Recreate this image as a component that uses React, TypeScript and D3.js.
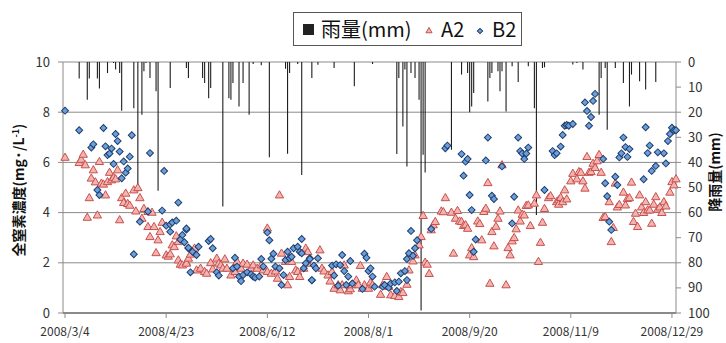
import React from 'react';
import * as d3 from 'd3';

// sampling days are counted from 2008/3/4
const startDate = new Date(2008, 2, 4);

const tickDays = [0, 50, 100, 150, 200, 250, 300];
const leftTicks = [0, 2, 4, 6, 8, 10];
const rightTicks = [0, 10, 20, 30, 40, 50, 60, 70, 80, 90, 100];

// [day, mm]
const rain: [number, number][] = [
  [7, 6.6], [11, 15], [12, 6.6], [16, 6.6], [17, 10.6], [21, 4.4], [24, 0.4], [25, 3], [27, 4.4],
  [28, 19.4], [34, 18.4], [36, 51.6], [38, 21], [39, 3.7], [40, 0.4], [42, 6.4], [45, 11.7], [46, 51.3],
  [52, 10.4], [60, 2.4], [61, 6.4], [68, 6.4], [69, 8.4], [71, 14.4], [72, 10.4], [78, 57.6], [81, 14.4],
  [82, 15], [83, 8.4], [86, 17.7], [88, 8.4], [91, 21], [93, 0.8], [97, 1.3], [101, 37.9], [109, 2.7],
  [110, 36.6], [111, 4.4], [115, 0.8], [117, 45], [122, 6.4], [125, 1.1], [133, 2.4], [143, 9.7], [152, 0.8],
  [164, 36.7], [165, 6.4], [167, 25.7], [168, 3], [169, 41.6], [171, 4.4], [173, 6.4], [175, 15], [176, 99],
  [177, 37], [178, 44], [191, 35], [196, 5], [199, 4.4], [200, 20], [201, 17.7], [202, 12.4], [209, 15.7],
  [210, 6.4], [211, 4.4], [214, 3.7], [215, 11.7], [216, 3.7], [218, 19.7], [221, 1.7], [224, 8], [229, 1.7],
  [232, 18.4], [233, 61], [236, 2.4], [237, 2.1], [251, 1], [253, 0.4], [256, 3], [264, 21], [265, 6.4],
  [267, 2.4], [268, 27], [272, 2.4], [276, 8.4], [279, 17.7], [280, 5], [284, 7.7], [287, 11], [292, 8],
];

// [day, mg/L]
const a2: [number, number][] = [
  [0, 6.2], [7, 5.99], [8, 6.12], [9, 6.32], [10, 5.9], [11, 3.81], [12, 4.59], [13, 5.37], [14, 5.7],
  [15, 5.22], [16, 3.9], [17, 6.03], [18, 5.17], [19, 5.13], [20, 4.7], [21, 5.23], [22, 5.6], [23, 5.3],
  [24, 5.4], [25, 5.34], [26, 5.7], [27, 3.71], [28, 4.59], [29, 4.4], [30, 4.77], [31, 4.36], [32, 4.29],
  [34, 4.9], [35, 4.06], [36, 4.99], [37, 4.59], [38, 3.77], [39, 4.16], [41, 4.04], [41, 3.44], [42, 3.04],
  [43, 4.01], [44, 3.44], [45, 2.4], [46, 2.91], [47, 3.24], [48, 3.61], [50, 2.31], [51, 2.26], [52, 2.35],
  [53, 2.71], [54, 2.64], [55, 3.07], [56, 2.84], [56, 2.11], [57, 1.94], [58, 1.91], [60, 2.01], [60, 1.98],
  [61, 2.18], [62, 2.34], [64, 2.58], [65, 1.71], [67, 1.78], [69, 1.65], [70, 1.58], [72, 2.0], [73, 1.75],
  [75, 2.18], [76, 1.98], [77, 1.91], [78, 1.78], [79, 2.15], [80, 1.78], [82, 1.51], [84, 1.65], [85, 2.05],
  [87, 1.78], [88, 1.98], [90, 1.94], [92, 1.78], [93, 1.91], [95, 1.78], [97, 1.91], [98, 1.71], [100, 1.65],
  [100, 3.38], [102, 1.58], [104, 1.67], [105, 1.38], [106, 4.7], [107, 2.38], [109, 2.05], [110, 1.12],
  [111, 1.45], [112, 2.05], [114, 1.71], [115, 1.65], [116, 1.45], [118, 1.78], [119, 2.58], [120, 1.98],
  [120, 2.44], [126, 2.51], [127, 1.78], [128, 1.67], [130, 1.51], [131, 1.27], [132, 1.65], [133, 0.98],
  [135, 1.12], [136, 0.92], [137, 1.12], [138, 1.91], [140, 0.88], [141, 0.96], [142, 1.12], [144, 1.31],
  [145, 1.12], [146, 1.89], [147, 0.98], [148, 1.12], [150, 0.98], [151, 1.22], [152, 1.12], [156, 0.74],
  [157, 1.12], [159, 1.45], [160, 1.05], [161, 0.72], [163, 0.69], [165, 0.65], [166, 0.85], [167, 0.81],
  [169, 1.14], [170, 1.71], [172, 2.07], [173, 2.31], [175, 2.71], [176, 3.04], [177, 3.88], [178, 2.02],
  [179, 1.94], [180, 1.57], [181, 3.31], [182, 3.51], [183, 3.64], [186, 4.06], [187, 4.03], [188, 4.59],
  [191, 4.01], [192, 2.38], [193, 3.77], [194, 4.08], [195, 3.66], [196, 3.64], [197, 3.48], [198, 3.51],
  [199, 3.37], [200, 2.31], [201, 2.6], [202, 2.24], [204, 3.66], [205, 3.56], [206, 2.91], [207, 4.04],
  [208, 4.17], [209, 5.19], [210, 1.18], [211, 3.24], [212, 2.67], [213, 3.45], [214, 3.77], [215, 4.06],
  [216, 5.9], [218, 1.12], [219, 2.6], [220, 2.31], [221, 2.87], [222, 3.0], [223, 3.35], [224, 4.1],
  [225, 3.66], [226, 3.93], [227, 3.9], [228, 4.28], [229, 4.3], [230, 3.48], [232, 4.37], [233, 4.7],
  [234, 2.05], [235, 2.81], [236, 3.61], [237, 4.16], [239, 4.59], [240, 4.67], [243, 4.43], [244, 4.5],
  [244, 4.33], [245, 4.6], [246, 4.43], [247, 4.9], [248, 4.54], [250, 5.26], [251, 5.56], [253, 5.34],
  [254, 5.63], [255, 5.6], [256, 5.26], [257, 4.97], [258, 6.23], [259, 5.6], [260, 5.63], [261, 5.96],
  [262, 5.79], [263, 6.06], [264, 6.31], [265, 5.6], [266, 3.8], [267, 3.84], [269, 4.43], [270, 2.84],
  [271, 3.4], [272, 5.17], [273, 4.22], [274, 4.32], [276, 4.81], [277, 4.3], [278, 4.56], [279, 4.59],
  [280, 5.21], [281, 3.64], [282, 3.97], [283, 3.44], [284, 4.7], [285, 4.22], [286, 4.0], [287, 4.43],
  [288, 4.1], [289, 4.1], [290, 3.57], [291, 4.33], [292, 4.63], [293, 4.13], [294, 4.22], [295, 4.0],
  [296, 4.43], [297, 4.26], [299, 4.81], [300, 5.23], [301, 5.1], [302, 5.34],
];

const b2: [number, number][] = [
  [0, 8.06], [7, 7.28], [13, 6.59], [14, 6.72], [16, 4.9], [17, 4.7], [19, 7.37], [20, 6.64], [21, 6.29],
  [22, 6.35], [23, 6.55], [24, 5.94], [25, 7.13], [26, 6.85], [27, 6.43], [28, 5.37], [29, 6.04], [30, 5.59],
  [31, 5.76], [32, 6.23], [33, 7.08], [34, 2.34], [37, 3.64], [41, 4.04], [42, 6.37], [48, 4.08], [49, 5.66],
  [50, 3.48], [52, 3.53], [52, 3.24], [53, 3.61], [55, 3.68], [56, 4.4], [57, 2.93], [58, 3.11], [59, 2.82],
  [60, 3.32], [60, 3.37], [61, 2.58], [61, 2.6], [62, 1.62], [63, 2.44], [65, 2.31], [66, 2.64], [71, 2.87],
  [72, 2.95], [73, 2.58], [75, 1.62], [76, 1.49], [83, 1.78], [84, 2.2], [85, 1.85], [86, 1.45], [87, 1.27],
  [88, 1.51], [90, 1.62], [92, 1.54], [93, 1.45], [94, 1.41], [96, 1.45], [97, 2.15], [98, 1.85], [100, 3.21],
  [101, 2.9], [102, 2.16], [103, 2.36], [104, 1.85], [106, 1.78], [107, 1.12], [108, 1.51], [109, 2.11],
  [110, 2.44], [111, 2.18], [112, 2.24], [113, 2.58], [115, 2.64], [116, 2.44], [117, 2.38], [117, 2.95],
  [118, 1.78], [119, 1.98], [121, 2.18], [121, 2.15], [122, 1.3], [122, 1.31], [123, 1.89], [124, 1.78],
  [125, 2.18], [132, 1.89], [133, 1.49], [134, 1.94], [135, 1.09], [136, 1.91], [137, 2.31], [138, 1.67],
  [139, 1.12], [140, 1.45], [141, 2.07], [142, 1.18], [147, 0.96], [148, 2.36], [149, 2.2], [150, 1.67],
  [151, 1.78], [152, 1.45], [153, 1.05], [157, 1.05], [158, 1.12], [160, 1.01], [161, 1.18], [163, 1.22],
  [164, 0.88], [165, 1.25], [166, 1.58], [168, 1.67], [169, 1.31], [169, 2.15], [170, 2.38], [171, 3.27],
  [172, 2.28], [173, 2.58], [174, 2.9], [181, 3.35], [188, 6.56], [189, 6.67], [196, 6.33], [197, 5.47],
  [198, 6.03], [199, 6.14], [200, 4.7], [201, 4.1], [202, 2.44], [203, 2.93], [208, 6.08], [209, 6.99],
  [211, 4.67], [212, 4.54], [216, 5.84], [221, 3.57], [222, 4.63], [224, 6.99], [225, 6.45], [226, 6.35],
  [227, 6.14], [228, 6.35], [229, 6.59], [237, 4.9], [241, 6.45], [242, 6.29], [243, 6.36], [245, 6.63],
  [246, 7.09], [247, 7.46], [248, 7.49], [249, 7.46], [251, 7.53], [257, 8.39], [258, 8.05], [259, 7.46],
  [260, 7.81], [261, 8.45], [262, 8.73], [266, 6.14], [267, 5.17], [268, 4.65], [269, 3.64], [270, 3.31],
  [272, 5.43], [273, 5.1], [274, 6.2], [275, 6.36], [276, 6.99], [277, 6.61], [278, 6.22], [279, 6.53],
  [286, 5.33], [287, 7.4], [288, 6.37], [289, 6.67], [290, 5.66], [292, 5.86], [293, 6.4], [296, 6.36],
  [297, 5.96], [298, 6.85], [299, 7.13], [300, 7.38], [301, 7.28], [302, 7.28],
];

const font = '"Liberation Sans Narrow", "Noto Sans CJK JP", sans-serif';

const App = () => {
  const width = 726;
  const height = 343;
  const left = 63;
  const right = 676;
  const top = 62;
  const bottom = 313;

  const day = (n: number) => d3.timeDay.offset(startDate, n);
  const x = d3.scaleTime().domain([day(-1), day(302)]).range([left, right]);
  const y = d3.scaleLinear().domain([0, 10]).range([bottom, top]);
  const yRain = d3.scaleLinear().domain([0, 100]).range([top, bottom]);
  const fmt = d3.timeFormat('%Y/%-m/%-d');

  const tri = d3.symbol().type(d3.symbolTriangle).size(30)()!;
  const dia = d3.symbol().type(d3.symbolSquare).size(24)()!;

  return (
    <svg width={width} height={height} style={{ position: 'absolute', left: 0, top: 0, background: '#fff' }}>
      {/* grid */}
      {leftTicks.slice(1).map((t) => (
        <line key={t} x1={left} x2={right} y1={y(t)} y2={y(t)} stroke='#8a8a8a' strokeWidth={1} />
      ))}
      {/* rain bars from the top */}
      {rain.map(([d, v], i) => (
        <line key={i} x1={x(day(d))} x2={x(day(d))} y1={top} y2={yRain(v)} stroke='#1e1e1e' strokeWidth={1.1} />
      ))}
      {/* axes */}
      <line x1={left} x2={left} y1={top} y2={bottom} stroke='#8a8a8a' />
      <line x1={right} x2={right} y1={top} y2={bottom} stroke='#8a8a8a' />
      <line x1={left} x2={right} y1={bottom} y2={bottom} stroke='#8a8a8a' strokeWidth={2} />
      {leftTicks.map((t) => (
        <g key={t}>
          <line x1={left - 5} x2={left} y1={y(t)} y2={y(t)} stroke='#8a8a8a' />
          <text x={50} y={y(t)} dy='0.35em' textAnchor='end' fontSize={13} fill='#333' fontFamily={font}>
            {t}
          </text>
        </g>
      ))}
      {rightTicks.map((t) => (
        <g key={t}>
          <line x1={right} x2={right + 5} y1={yRain(t)} y2={yRain(t)} stroke='#8a8a8a' />
          <text x={688} y={yRain(t)} dy='0.35em' fontSize={13} fill='#333' fontFamily={font}>
            {t}
          </text>
        </g>
      ))}
      {tickDays.map((t) => (
        <g key={t}>
          <line x1={x(day(t))} x2={x(day(t))} y1={bottom} y2={bottom + 5} stroke='#8a8a8a' />
          <text x={x(day(t))} y={332} dy='0.35em' textAnchor='middle' fontSize={12} fill='#333' fontFamily={font}>
            {fmt(day(t))}
          </text>
        </g>
      ))}
      {/* points */}
      {a2.map(([d, v], i) => (
        <path key={'a' + i} d={tri} transform={`translate(${x(day(d))},${y(v) + 0.5})`}
          fill='#f3b3b1' stroke='#c8504c' strokeWidth={1} />
      ))}
      {b2.map(([d, v], i) => (
        <path key={'b' + i} d={dia} transform={`translate(${x(day(d))},${y(v)}) rotate(45)`}
          fill='#6b9fdb' stroke='#1f3d6b' strokeWidth={1} />
      ))}
      {/* axis titles */}
      <text transform='translate(19,190) rotate(-90)' textAnchor='middle' dy='0.35em' fontSize={14}
        fontWeight='bold' fill='#111' fontFamily={font}>
        全窒素濃度(mg·/L<tspan dy='-5' fontSize={9}>-1</tspan><tspan dy='5'>)</tspan>
      </text>
      <text transform='translate(715,172) rotate(-90)' textAnchor='middle' dy='0.35em' fontSize={14}
        fontWeight='bold' fill='#111' fontFamily={font}>
        降雨量(mm)
      </text>
      {/* legend */}
      <rect x={293.5} y={12.5} width={228} height={33} fill='#fff' stroke='#555' />
      <rect x={303} y={24} width={11} height={11} fill='#222' />
      <text x={321} y={30} dy='0.35em' fontSize={20} fill='#111' fontFamily={font}>雨量(mm)</text>
      <path d={d3.symbol().type(d3.symbolTriangle).size(16)()!} transform='translate(429,31)'
        fill='#f3b3b1' stroke='#c8504c' />
      <text x={441} y={30} dy='0.35em' fontSize={20} fill='#111' fontFamily={font}>A2</text>
      <path d={d3.symbol().type(d3.symbolSquare).size(14)()!} transform='translate(480,31) rotate(45)'
        fill='#6b9fdb' stroke='#1f3d6b' />
      <text x={492} y={30} dy='0.35em' fontSize={20} fill='#111' fontFamily={font}>B2</text>
    </svg>
  );
};

export default App;
